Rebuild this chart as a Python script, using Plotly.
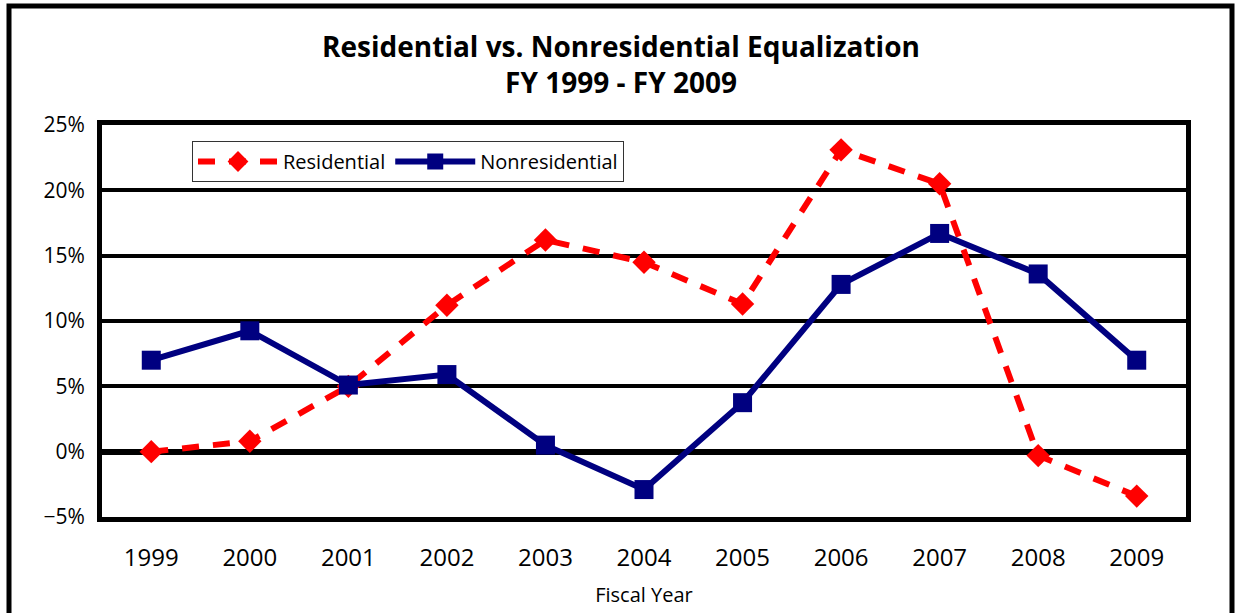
import plotly.graph_objects as go

years = ["1999", "2000", "2001", "2002", "2003", "2004", "2005", "2006", "2007", "2008", "2009"]
residential = [0.0, 0.8, 5.0, 11.2, 16.2, 14.5, 11.3, 23.1, 20.5, -0.3, -3.4]
nonresidential = [7.0, 9.25, 5.1, 5.9, 0.5, -2.9, 3.75, 12.8, 16.7, 13.6, 7.0]

W, H = 1235, 613
L, R, T, B = 102, 1186, 125, 517

FONT = "Open Sans"

fig = go.Figure()
fig.add_trace(go.Scatter(
    x=years, y=residential, name="Residential", mode="lines+markers",
    line=dict(color="#FF0000", width=6, dash="17px,14px"),
    marker=dict(symbol="diamond", size=18, color="#FF0000"),
))
fig.add_trace(go.Scatter(
    x=years, y=nonresidential, name="Nonresidential", mode="lines+markers",
    line=dict(color="#000080", width=6),
    marker=dict(symbol="square", size=19, color="#000080"),
))

def px2x(px):
    return (px - L) / (R - L)

def px2y(py):
    return (B - py) / (B - T)

fig.update_layout(
    width=W, height=H,
    margin=dict(l=L, r=W - R, t=T, b=H - B, autoexpand=False),
    paper_bgcolor="white", plot_bgcolor="white",
    font=dict(family=FONT, color="black"),
    title=dict(
        text="<b>Residential vs. Nonresidential Equalization</b><br><b>FY 1999 - FY 2009</b>",
        x=621 / W, xanchor="center", xref="container",
        y=1 - 57 / H, yanchor="middle", yref="container",
        font=dict(family=FONT, size=28, color="black"),
    ),
    showlegend=True,
    legend=dict(
        orientation="h", x=px2x(192), y=px2y(141), xanchor="left", yanchor="top",
        bordercolor="#333333", borderwidth=1, bgcolor="white",
        font=dict(family=FONT, size=20, color="black"),
        itemwidth=80,
    ),
    xaxis=dict(
        type="category", range=[-0.5, 10.5], automargin=False,
        showline=True, linecolor="black", linewidth=5, mirror=True,
        showgrid=False, ticks="", ticklabelstandoff=15,
        tickfont=dict(family=FONT, size=24, color="black"),
        title=dict(text="Fiscal Year", font=dict(family=FONT, size=20, color="black"), standoff=18),
    ),
    yaxis=dict(
        range=[-5, 25], dtick=5, tick0=0, ticksuffix="%", automargin=False,
        showline=True, linecolor="black", linewidth=5, mirror=True,
        showgrid=True, gridcolor="black", gridwidth=4,
        zeroline=True, zerolinecolor="black", zerolinewidth=6,
        ticks="", ticklabelstandoff=8,
        tickfont=dict(family=FONT, size=21, color="black"),
    ),
    shapes=[
        dict(type="rect", xref="paper", yref="paper",
             x0=px2x(9), x1=px2x(1232), y0=px2y(640), y1=px2y(6),
             line=dict(color="black", width=5), fillcolor="rgba(0,0,0,0)", layer="above"),
    ],
)

fig.write_html(
    "out.html",
    config={"displayModeBar": False},
    post_script="document.body.style.margin='0';document.body.style.overflow='hidden';",
)
